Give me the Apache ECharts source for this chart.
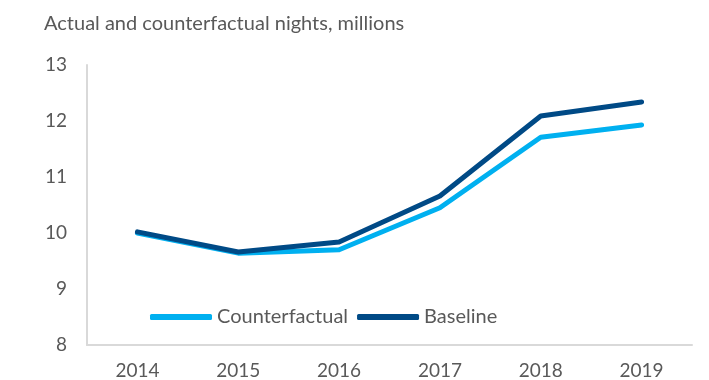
<!DOCTYPE html>
<html>
<head>
<meta charset="utf-8">
<script src="https://cdn.jsdelivr.net/npm/echarts@6/dist/echarts.min.js"></script>
<style>
  html, body { margin: 0; padding: 0; background: #ffffff; }
  #chart { width: 709px; height: 380px; }
</style>
</head>
<body>
<div id="chart"></div>
<script>
// Nights (millions) by year: actual baseline vs counterfactual
const years = ['2014', '2015', '2016', '2017', '2018', '2019'];
const counterfactual = [10.0, 9.64, 9.70, 10.45, 11.71, 11.93];
const baseline = [10.02, 9.66, 9.84, 10.66, 12.09, 12.34];
const yTicks = [8, 9, 10, 11, 12, 13];

const textGrey = '#595959';
const font = 'Lato, "Open Sans", sans-serif';

const chart = echarts.init(document.getElementById('chart'), null, { renderer: 'canvas' });
chart.setOption({
  animation: false,
  backgroundColor: '#ffffff',
  title: {
    text: 'Actual and counterfactual nights, millions',
    left: 39,
    top: 9,
    textStyle: { fontFamily: font, fontSize: 20, fontWeight: 'normal', color: textGrey }
  },
  legend: {
    left: 145,
    top: 302,
    itemWidth: 62,
    itemHeight: 6,
    itemGap: 9,
    icon: 'roundRect',
    textStyle: { fontFamily: font, fontSize: 20, color: textGrey },
    data: ['Counterfactual', 'Baseline']
  },
  grid: { left: 87, right: 17, top: 65, bottom: 35 },
  xAxis: {
    type: 'category',
    data: years,
    boundaryGap: true,
    axisLine: { lineStyle: { color: '#d9d9d9', width: 2 } },
    axisTick: { show: false },
    axisLabel: { fontFamily: font, fontSize: 19, color: textGrey, margin: 16 }
  },
  yAxis: {
    type: 'value',
    min: yTicks[0],
    max: yTicks[yTicks.length - 1],
    interval: 1,
    axisLine: { show: true, lineStyle: { color: '#d9d9d9', width: 2 } },
    axisTick: { show: false },
    splitLine: { show: false },
    axisLabel: { fontFamily: font, fontSize: 19, color: textGrey, margin: 20 }
  },
  series: [
    {
      name: 'Counterfactual',
      type: 'line',
      data: counterfactual,
      symbol: 'none',
      color: '#00b0f0',
      lineStyle: { width: 5, color: '#00b0f0', cap: 'round', join: 'round' },
      z: 2
    },
    {
      name: 'Baseline',
      type: 'line',
      data: baseline,
      symbol: 'none',
      color: '#004a86',
      lineStyle: { width: 5, color: '#004a86', cap: 'round', join: 'round' },
      z: 3
    }
  ]
});
</script>
</body>
</html>
